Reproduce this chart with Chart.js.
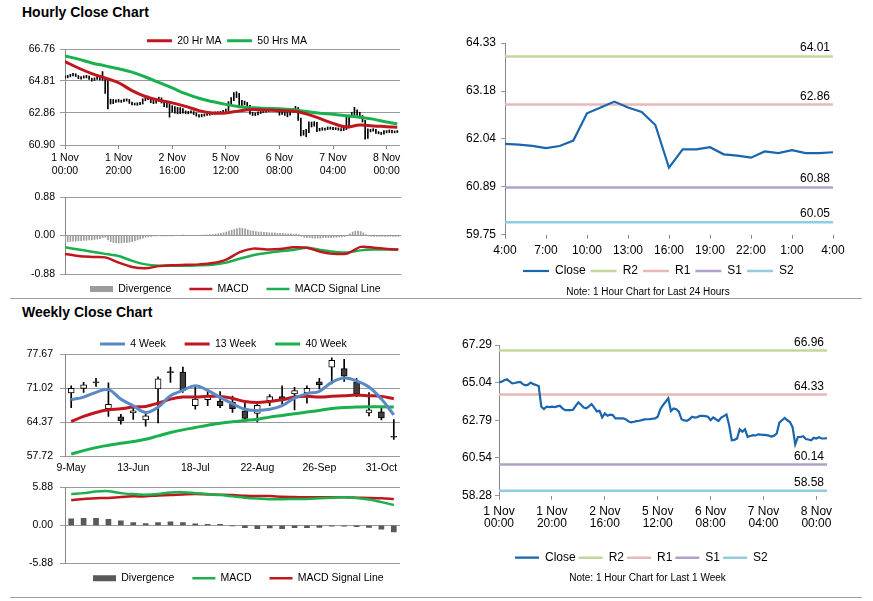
<!DOCTYPE html>
<html lang="en">
<head>
  <meta charset="UTF-8" />
  <title>Hourly and Weekly Close Charts</title>
  <script src="https://cdn.jsdelivr.net/npm/chart.js"></script>
  <style>
    html, body { margin: 0; padding: 0; background: #fff; overflow: hidden; }
    body { position: relative; width: 873px; height: 601px; font-family: 'Liberation Sans', Arial, sans-serif; }
    .title { position: absolute; left: 22px; font-size: 14px; font-weight: bold; color: #000; }
    .rule { position: absolute; left: 10px; width: 852px; height: 0; border-top: 1px solid #a0a0a0; }
    canvas { position: absolute; }
  </style>
</head>
<body>
  <div class="title" style="top:4px">Hourly Close Chart</div>
  <div class="title" style="top:304px">Weekly Close Chart</div>
  <div class="rule" style="top:298px"></div>
  <div class="rule" style="top:597px"></div>

  <canvas id="hourlyCandles" width="420" height="157" style="left:0;top:23px"></canvas>
  <canvas id="hourlyMacd" width="420" height="128" style="left:0;top:185px"></canvas>
  <canvas id="dayClose" width="443" height="270" style="left:430px;top:30px"></canvas>
  <canvas id="weeklyCandles" width="420" height="165" style="left:0;top:315px"></canvas>
  <canvas id="weeklyMacd" width="420" height="128" style="left:0;top:474px"></canvas>
  <canvas id="weekClose" width="443" height="256" style="left:430px;top:330px"></canvas>

  <script>
    // ---- hourly data (1 Nov 00:00 .. 8 Nov 04:00, one value per hour) ----
    const hourTickPos = [0, 20, 40, 60, 80, 100, 120];
    const hourTickLabels = [['1 Nov', '00:00'], ['1 Nov', '20:00'], ['2 Nov', '16:00'], ['5 Nov', '12:00'],
                            ['6 Nov', '08:00'], ['7 Nov', '04:00'], ['8 Nov', '00:00']];

    const hourlyClose = [65.05, 65.10, 65.18, 65.24, 65.12, 65.00, 65.02, 65.06, 65.08, 64.95,
      64.88, 64.92, 65.04, 64.95, 64.90, 64.84, 63.60, 63.46, 63.60, 63.58,
      63.60, 63.58, 63.62, 63.66, 63.50, 63.40, 63.40, 63.40, 63.42, 63.65,
      63.86, 63.72, 63.55, 63.50, 63.62, 63.76, 63.55, 63.32, 63.36, 62.96,
      63.20, 63.06, 63.12, 63.10, 62.90, 62.90, 62.90, 62.90, 62.84, 62.72,
      62.67, 62.70, 62.74, 62.76, 62.80, 62.84, 62.85, 62.86, 62.88, 62.90,
      63.00, 63.45, 63.70, 63.90, 64.10, 63.34, 63.50, 63.45, 63.30, 62.85,
      62.78, 62.75, 62.85, 63.00, 62.95, 62.98, 63.06, 63.05, 63.04, 63.00,
      62.80, 62.96, 62.85, 62.75, 62.95, 63.04, 63.14, 62.50, 61.60, 61.62,
      61.70, 62.25, 62.10, 62.25, 61.80, 61.85, 61.90, 61.88, 61.95, 61.93,
      61.92, 61.90, 61.87, 61.82, 61.87, 62.00, 62.65, 62.79, 62.93, 62.79,
      62.68, 62.37, 61.35, 61.79, 61.79, 61.84, 61.67, 61.64, 61.59, 61.74,
      61.70, 61.77, 61.70, 61.70, 61.72];

    const hourlyHigh = [65.12, 65.15, 65.22, 65.28, 65.25, 65.14, 65.08, 65.12, 65.15, 65.10,
      64.98, 65.00, 65.10, 65.08, 65.38, 64.98, 64.92, 63.70, 63.68, 63.66,
      63.68, 63.64, 63.70, 63.72, 63.68, 63.52, 63.46, 63.48, 63.50, 63.72,
      63.92, 63.88, 63.76, 63.62, 63.70, 63.82, 63.78, 63.58, 63.46, 63.40,
      63.30, 63.24, 63.20, 63.18, 63.12, 62.98, 62.96, 62.98, 62.94, 62.86,
      62.76, 62.78, 62.80, 62.82, 62.86, 62.90, 62.92, 62.94, 62.96, 63.02,
      63.10, 63.55, 63.80, 64.10, 64.15, 64.05, 63.62, 63.58, 63.50, 63.32,
      62.90, 62.86, 62.92, 63.06, 63.04, 63.05, 63.12, 63.12, 63.10, 63.08,
      63.02, 63.04, 63.00, 62.90, 63.02, 63.12, 63.26, 63.18, 62.55, 61.80,
      61.86, 62.32, 62.30, 62.32, 62.28, 61.92, 61.96, 61.94, 62.00, 62.00,
      61.98, 61.96, 61.94, 61.90, 61.92, 62.60, 62.72, 62.90, 63.20, 63.05,
      62.90, 62.70, 62.40, 61.88, 61.86, 61.90, 61.86, 61.72, 61.68, 61.78,
      61.78, 61.82, 61.80, 61.76, 61.78];

    const hourlyLow = [64.98, 65.00, 65.06, 65.12, 65.08, 64.95, 64.92, 64.98, 65.00, 64.90,
      64.80, 64.84, 64.90, 64.88, 64.85, 64.05, 63.10, 63.40, 63.42, 63.50,
      63.52, 63.50, 63.54, 63.58, 63.44, 63.34, 63.34, 63.32, 63.36, 63.40,
      63.60, 63.66, 63.48, 63.42, 63.46, 63.56, 63.46, 63.24, 63.20, 62.60,
      62.90, 62.85, 62.80, 62.82, 62.84, 62.82, 62.80, 62.84, 62.76, 62.66,
      62.60, 62.62, 62.66, 62.70, 62.72, 62.76, 62.78, 62.80, 62.82, 62.84,
      62.88, 62.98, 63.40, 63.60, 63.80, 63.25, 63.30, 63.35, 63.20, 62.78,
      62.70, 62.70, 62.74, 62.82, 62.88, 62.90, 62.94, 62.98, 62.96, 62.92,
      62.72, 62.76, 62.70, 62.62, 62.72, 62.90, 63.00, 62.40, 61.45, 61.50,
      61.40, 61.66, 62.00, 62.05, 61.72, 61.76, 61.80, 61.80, 61.84, 61.86,
      61.84, 61.84, 61.80, 61.76, 61.78, 61.84, 61.95, 62.60, 62.74, 62.70,
      62.55, 62.30, 61.25, 61.30, 61.70, 61.74, 61.60, 61.58, 61.54, 61.56,
      61.64, 61.66, 61.64, 61.64, 61.66];

    // moving averages and MACD sampled every 5 hours
    const maHours = [0, 5, 10, 15, 20, 25, 30, 35, 40, 45, 50, 55, 60, 65, 70, 75, 80, 85, 90, 95, 100, 105, 110, 115, 120, 124];
    const ma20 = [65.99, 65.60, 65.26, 64.99, 64.70, 64.22, 63.86, 63.64, 63.47, 63.26, 63.00, 62.86, 62.86,
                  62.98, 63.06, 63.03, 63.00, 62.97, 62.80, 62.52, 62.22, 62.00, 62.12, 62.06, 62.02, 61.98];
    const ma50 = [66.33, 66.14, 65.91, 65.73, 65.55, 65.35, 65.05, 64.72, 64.38, 64.03, 63.75, 63.55, 63.38,
                  63.24, 63.17, 63.13, 63.11, 63.05, 62.95, 62.84, 62.77, 62.68, 62.59, 62.48, 62.30, 62.19];
    const hourMacd = [-0.42, -0.47, -0.49, -0.50, -0.62, -0.72, -0.75, -0.70, -0.68, -0.67, -0.66, -0.63, -0.55,
                      -0.38, -0.30, -0.32, -0.31, -0.27, -0.28, -0.37, -0.42, -0.41, -0.26, -0.28, -0.31, -0.32];
    const hourSignal = [-0.27, -0.32, -0.37, -0.42, -0.47, -0.58, -0.66, -0.69, -0.69, -0.69, -0.68, -0.67, -0.62,
                        -0.53, -0.45, -0.40, -0.36, -0.33, -0.28, -0.33, -0.37, -0.39, -0.34, -0.32, -0.32, -0.32];
    const hourDiv = [-0.15, -0.14, -0.14, -0.13, -0.13, -0.12, -0.12, -0.11, -0.11, -0.10,
      -0.10, -0.09, -0.08, -0.07, -0.05, -0.04, -0.10, -0.14, -0.16, -0.17,
      -0.17, -0.17, -0.16, -0.16, -0.15, -0.14, -0.12, -0.10, -0.08, -0.06,
      -0.04, -0.03, -0.02, -0.01, -0.01, 0.00, -0.01, -0.01, -0.01, -0.01,
      -0.01, 0.00, 0.00, 0.00, 0.01, 0.00, 0.00, 0.00, 0.00, 0.00,
      0.00, 0.01, 0.01, 0.01, 0.02, 0.02, 0.03, 0.04, 0.05, 0.06,
      0.08, 0.10, 0.12, 0.14, 0.16, 0.17, 0.16, 0.15, 0.13, 0.11,
      0.10, 0.09, 0.08, 0.08, 0.07, 0.07, 0.06, 0.06, 0.06, 0.05,
      0.05, 0.05, 0.04, 0.04, 0.04, 0.03, 0.03, 0.02, -0.02, -0.04,
      -0.05, -0.05, -0.06, -0.06, -0.06, -0.06, -0.05, -0.05, -0.05, -0.05,
      -0.04, -0.04, -0.03, -0.03, -0.02, 0.00, 0.04, 0.08, 0.10, 0.10,
      0.09, 0.06, 0.02, -0.01, -0.02, -0.02, -0.02, -0.02, -0.02, -0.02,
      -0.02, -0.02, -0.02, -0.02, -0.02];

    // last 24 hours (7 Nov 04:00 .. 8 Nov 04:00) are the tail of the hourly series
    const dayTickPos = [0, 3, 6, 9, 12, 15, 18, 21, 24];
    const dayTickLabels = ['4:00', '7:00', '10:00', '13:00', '16:00', '19:00', '22:00', '1:00', '4:00'];
    const dayClose = hourlyClose.slice(100);

    const pivotNames = ['R2', 'R1', 'S1', 'S2'];
    const pivotsDay = [64.01, 62.86, 60.88, 60.05];
    const pivotsWeek = [66.96, 64.33, 60.14, 58.58];

    // ---- weekly data ----
    const weekLabels = ['9-May', '16-May', '23-May', '30-May', '6-Jun', '13-Jun', '20-Jun', '27-Jun', '4-Jul',
      '11-Jul', '18-Jul', '25-Jul', '1-Aug', '8-Aug', '15-Aug', '22-Aug', '29-Aug', '5-Sep', '12-Sep',
      '19-Sep', '26-Sep', '3-Oct', '10-Oct', '17-Oct', '24-Oct', '31-Oct', '7-Nov'];
    const weekOpen = [70.1, 71.0, 72.3, 67.0, 65.4, 66.2, 64.8, 70.9, 74.3, 74.2, 67.6, 68.8, 68.5, 68.3,
                      66.6, 66.1, 68.6, 69.4, 69.9, 70.1, 72.3, 75.2, 74.9, 72.3, 66.2, 66.4, 61.6];
    const weekClose = [71.0, 71.7, 72.1, 67.9, 64.6, 66.6, 65.6, 72.9, 74.1, 70.6, 68.9, 69.6, 67.6, 67.0,
                       65.1, 67.7, 69.4, 68.6, 70.6, 71.0, 71.7, 76.5, 73.4, 69.9, 66.8, 65.2, 61.4];
    const weekHigh = [71.5, 72.2, 73.0, 72.1, 65.9, 67.1, 66.4, 73.3, 75.2, 75.2, 71.2, 70.6, 70.4, 69.5,
                      68.2, 68.2, 69.8, 71.5, 71.2, 71.5, 73.0, 77.0, 76.7, 73.0, 70.2, 67.2, 64.9];
    const weekLow = [67.2, 70.2, 71.4, 65.5, 64.0, 64.9, 63.6, 64.2, 72.2, 70.2, 66.9, 67.6, 67.2, 66.3,
                     64.6, 64.4, 67.6, 67.9, 66.8, 68.1, 70.9, 71.9, 72.4, 69.4, 65.6, 64.8, 61.0];
    const weekMa4 = [68.78, 69.30, 70.23, 70.76, 68.90, 67.60, 66.28, 67.30, 69.57, 70.60, 71.55, 70.60, 69.24,
                     68.00, 66.90, 66.68, 66.90, 67.60, 69.10, 69.97, 70.43, 72.20, 73.06, 72.50, 71.28, 68.90, 65.80];
    const weekMa13 = [64.50, 65.50, 66.28, 66.80, 67.00, 67.34, 67.47, 68.12, 68.90, 69.30, 69.30, 69.44, 69.44,
                      69.04, 68.45, 68.25, 68.45, 68.78, 69.30, 69.44, 69.30, 69.44, 69.57, 69.70, 69.57, 69.44, 68.98];
    const weekMa40 = [58.10, 58.78, 59.37, 59.83, 60.23, 60.55, 61.00, 61.67, 62.33, 62.86, 63.32, 63.78, 64.17,
                      64.44, 64.70, 64.96, 65.36, 65.69, 66.02, 66.35, 66.68, 67.07, 67.27, 67.34, 67.40, 67.40, 67.34];
    const weekMacd = [4.83, 4.98, 5.23, 5.28, 4.98, 4.83, 4.73, 4.83, 5.08, 5.13, 4.98, 4.83, 4.68, 4.48,
                      4.28, 4.14, 4.04, 4.04, 4.09, 4.09, 4.19, 4.28, 4.33, 4.24, 3.99, 3.59, 3.14];
    const weekSignal = [3.89, 4.09, 4.19, 4.24, 4.38, 4.48, 4.48, 4.63, 4.68, 4.78, 4.83, 4.78, 4.73, 4.68,
                        4.58, 4.53, 4.53, 4.43, 4.38, 4.33, 4.33, 4.33, 4.33, 4.28, 4.24, 4.19, 4.09];
    const weekDiv = [1.0, 1.1, 1.1, 0.95, 0.7, 0.45, 0.3, 0.45, 0.55, 0.45, 0.25, 0.15, 0.15, -0.05,
                     -0.35, -0.5, -0.4, -0.5, -0.35, -0.35, -0.3, -0.1, -0.1, -0.2, -0.3, -0.6, -1.0];

    // ---- y axis tick values ----
    const hourlyTicks = [60.90, 62.86, 64.81, 66.76];
    const hourMacdTicks = [-0.88, 0.00, 0.88];
    const dayTicks = [59.75, 60.89, 62.04, 63.18, 64.33];
    const weeklyTicks = [57.72, 64.37, 71.02, 77.67];
    const weekMacdTicks = [-5.88, 0.00, 5.88];
    const weekCloseTicks = [58.28, 60.54, 62.79, 65.04, 67.29];

    const RED = '#c0161d', GREEN = '#1ab04c', BLUE = '#5a8ac6', CLOSE = '#1a65ad';
    const pivotColors = ['#c4d79b', '#e6b8b7', '#b1a0c7', '#92cddc'];
    const AXIS = '#868686', GRID = '#9a9a9a';

    Chart.defaults.font.family = "'Liberation Sans', Arial, sans-serif";
    Chart.defaults.color = '#000';
    Chart.defaults.animation = false;

    // puts the legend (and the note under it) where the reference has them
    const placeBoxes = {
      id: 'placeBoxes',
      afterLayout(chart, args, o) {
        const lg = chart.legend;
        if (lg && o.legendX != null) {
          const pad = lg.options.labels.padding;
          const top = o.legendY - pad - o.itemH / 2;
          lg.left = o.legendX - pad;
          lg.right = lg.left + 1000;
          lg.top = top;
          lg.bottom = top + lg.height;
        }
        if (o.noteY != null) {
          const note = chart.boxes.find(b => b !== lg && b.options && typeof b.options.text === 'string' && b.options.text.length);
          if (note) {
            note.left = o.noteX - 300;
            note.right = o.noteX + 300;
            note.top = o.noteY - 6;
            note.bottom = note.top + 12;
          }
        }
      }
    };

    // value labels above the pivot lines
    const levelLabels = {
      id: 'levelLabels',
      afterDatasetsDraw(chart) {
        const { ctx, chartArea, scales } = chart;
        ctx.save();
        ctx.font = "12px 'Liberation Sans', Arial, sans-serif";
        ctx.fillStyle = '#000';
        ctx.textAlign = 'right';
        ctx.textBaseline = 'alphabetic';
        chart.data.datasets.forEach(ds => {
          if (ds.levelValue == null) return;
          const y = scales.y.getPixelForValue(ds.levelValue);
          ctx.fillText(ds.levelValue.toFixed(2), chartArea.right - 3, y - 5);
        });
        ctx.restore();
      }
    };

    function legendLabels(chart) {
      return chart.data.datasets.map((ds, i) => ds.label ? {
        text: ds.label,
        datasetIndex: i,
        pointStyle: ds.type === 'line' ? 'line' : 'rect',
        strokeStyle: ds.borderColor,
        fillStyle: ds.type === 'line' ? ds.borderColor : ds.backgroundColor,
        lineWidth: ds.type === 'line' ? ds.borderWidth : 0,
        fontColor: '#000',
        hidden: false
      } : null).filter(Boolean);
    }

    function legend(position, size, pad, boxW) {
      return {
        display: true,
        position: position,
        align: 'start',
        labels: {
          font: { size: size },
          padding: pad,
          usePointStyle: true,
          pointStyleWidth: boxW,
          boxHeight: 6,
          generateLabels: legendLabels
        }
      };
    }

    function yAxis(ticksArr, width, size, tickLen, pad, grid) {
      return {
        min: ticksArr[0],
        max: ticksArr[ticksArr.length - 1],
        afterBuildTicks: s => { s.ticks = ticksArr.map(v => ({ value: v })); },
        afterFit: s => { s.width = width; },
        ticks: { font: { size: size }, padding: pad, callback: v => v.toFixed(2) },
        grid: { drawOnChartArea: grid, color: GRID, tickLength: tickLen },
        border: { color: AXIS }
      };
    }

    function hourAxis(max, height, size, lineHeight, pad) {
      return {
        type: 'linear', min: 0, max: max, offset: false,
        afterBuildTicks: s => { s.ticks = hourTickPos.map(v => ({ value: v })); },
        afterFit: s => { s.height = height; },
        ticks: { font: { size: size, lineHeight: lineHeight }, padding: pad, maxRotation: 0, autoSkip: false,
                 callback: (v, i) => hourTickLabels[i] },
        grid: { drawOnChartArea: false, offset: false, tickLength: 4, color: AXIS },
        border: { display: false }
      };
    }

    const atHours = (vals) => maHours.map((h, i) => ({ x: h, y: vals[i] }));
    const lineSet = (label, data, color, width, tension) => ({
      type: 'line', label: label, data: data, borderColor: color, backgroundColor: color,
      borderWidth: width, pointRadius: 0, tension: tension, order: 0
    });

    // ---- Hourly candles ----
    new Chart(document.getElementById('hourlyCandles'), {
      type: 'bar',
      data: {
        datasets: [
          lineSet('20 Hr MA', atHours(ma20), RED, 3, 0.4),
          lineSet('50 Hrs MA', atHours(ma50), GREEN, 3, 0.4),
          {
            type: 'bar',
            data: hourlyHigh.map((h, i) => ({ x: i, y: [hourlyLow[i], h] })),
            backgroundColor: '#000', barThickness: 1, order: 1
          }
        ]
      },
      options: {
        responsive: false,
        layout: { padding: { left: 0, right: 20, top: 0, bottom: 0 } },
        plugins: {
          legend: legend('top', 10.5, 5.5, 25),
          tooltip: { enabled: false },
          placeBoxes: { legendX: 147, legendY: 17.7, itemH: 10.5 }
        },
        scales: {
          x: hourAxis(125, 35, 10.5, 1.27, 2),
          y: yAxis(hourlyTicks, 65, 10.5, 5, 5, true)
        }
      },
      plugins: [placeBoxes]
    });

    // ---- Hourly MACD ----
    new Chart(document.getElementById('hourlyMacd'), {
      type: 'bar',
      data: {
        datasets: [
          {
            type: 'bar', label: 'Divergence',
            data: hourDiv.map((v, i) => ({ x: i, y: v })),
            backgroundColor: '#9c9c9c', barThickness: 1, order: 2
          },
          lineSet('MACD', atHours(hourMacd), RED, 2.5, 0.3),
          lineSet('MACD Signal Line', atHours(hourSignal), GREEN, 2.5, 0.3)
        ]
      },
      options: {
        responsive: false,
        layout: { padding: { left: 0, right: 19, top: 12, bottom: 0.5 } },
        plugins: {
          legend: legend('bottom', 10.5, 18, 23),
          tooltip: { enabled: false },
          placeBoxes: { legendX: 90, legendY: 104, itemH: 10.5 }
        },
        scales: {
          x: { type: 'linear', min: 0, max: 125, offset: false, display: false, grid: { offset: false } },
          y: yAxis(hourMacdTicks, 65, 10.5, 5, 5, true)
        }
      },
      plugins: [placeBoxes]
    });

    // ---- Close for last 24 hours with pivots ----
    function pivotSets(levels, lastX) {
      return pivotNames.map((name, i) => ({
        type: 'line', label: name,
        data: [{ x: 0, y: levels[i] }, { x: lastX, y: levels[i] }],
        borderColor: pivotColors[i], backgroundColor: pivotColors[i],
        borderWidth: 2.5, pointRadius: 0, order: 1, levelValue: levels[i]
      }));
    }

    new Chart(document.getElementById('dayClose'), {
      type: 'line',
      data: {
        datasets: [
          lineSet('Close', dayClose.map((v, i) => ({ x: i, y: v })), CLOSE, 2.2, 0),
          ...pivotSets(pivotsDay, 24)
        ]
      },
      options: {
        responsive: false,
        layout: { padding: { left: 0, right: 40, top: 13, bottom: 4.3 } },
        plugins: {
          legend: legend('bottom', 12, 5, 26),
          subtitle: { display: true, text: 'Note: 1 Hour Chart for Last 24 Hours', position: 'bottom',
                      font: { size: 10 }, color: '#000', padding: 0 },
          tooltip: { enabled: false },
          placeBoxes: { legendX: 93, legendY: 241, itemH: 12, noteX: 218, noteY: 262 }
        },
        scales: {
          x: {
            type: 'linear', min: 0, max: 24,
            afterBuildTicks: s => { s.ticks = dayTickPos.map(v => ({ value: v })); },
            afterFit: s => { s.height = 22; },
            ticks: { font: { size: 12 }, padding: 5, maxRotation: 0, autoSkip: false,
                     callback: (v, i) => dayTickLabels[i] },
            grid: { drawOnChartArea: false, tickLength: 4, color: AXIS },
            border: { display: false }
          },
          y: yAxis(dayTicks, 75, 12, 4, 5, false)
        }
      },
      plugins: [placeBoxes, levelLabels]
    });

    // ---- Weekly candles ----
    new Chart(document.getElementById('weeklyCandles'), {
      type: 'bar',
      data: {
        labels: weekLabels,
        datasets: [
          lineSet('4 Week', weekMa4, BLUE, 3, 0.4),
          lineSet('13 Week', weekMa13, RED, 3, 0.4),
          lineSet('40 Week', weekMa40, GREEN, 3, 0.4),
          {
            type: 'bar', data: weekOpen.map((o, i) => [o, weekClose[i]]),
            backgroundColor: weekOpen.map((o, i) => weekClose[i] >= o ? '#ffffff' : '#404040'),
            borderColor: '#000', borderWidth: 1, borderSkipped: false,
            barThickness: 6, grouped: false, order: 1
          },
          {
            type: 'bar', data: weekLow.map((l, i) => [l, weekHigh[i]]),
            backgroundColor: '#000', barThickness: 1, grouped: false, order: 2
          }
        ]
      },
      options: {
        responsive: false,
        layout: { padding: { left: 0, right: 20, top: 0, bottom: 6 } },
        plugins: {
          legend: legend('top', 10.5, 19, 25),
          tooltip: { enabled: false },
          placeBoxes: { legendX: 100, legendY: 29, itemH: 10.5 }
        },
        scales: {
          x: {
            afterFit: s => { s.height = 18; },
            ticks: { font: { size: 10.5 }, padding: 6, maxRotation: 0, autoSkip: false,
                     callback: (v, i) => i % 5 === 0 ? weekLabels[i] : '' },
            grid: { display: false, drawTicks: false, tickLength: 0 },
            border: { display: false }
          },
          y: yAxis(weeklyTicks, 65, 10.5, 5, 7, true)
        }
      },
      plugins: [placeBoxes]
    });

    // ---- Weekly MACD ----
    new Chart(document.getElementById('weeklyMacd'), {
      type: 'bar',
      data: {
        labels: weekLabels,
        datasets: [
          { type: 'bar', label: 'Divergence', data: weekDiv, backgroundColor: '#595959', barThickness: 5, order: 2 },
          lineSet('MACD', weekMacd, GREEN, 2.5, 0.3),
          lineSet('MACD Signal Line', weekSignal, RED, 2.5, 0.3)
        ]
      },
      options: {
        responsive: false,
        layout: { padding: { left: 0, right: 20, top: 10, bottom: 0 } },
        plugins: {
          legend: legend('bottom', 10.5, 18, 23),
          tooltip: { enabled: false },
          placeBoxes: { legendX: 93, legendY: 104.3, itemH: 10.5 }
        },
        scales: {
          x: { display: false },
          y: yAxis(weekMacdTicks, 65, 10.5, 5, 7, true)
        }
      },
      plugins: [placeBoxes]
    });

    // ---- Close for last week with pivots ----
    new Chart(document.getElementById('weekClose'), {
      type: 'line',
      data: {
        datasets: [
          lineSet('Close', hourlyClose.map((v, i) => ({ x: i, y: v })), CLOSE, 2.2, 0),
          ...pivotSets(pivotsWeek, 124)
        ]
      },
      options: {
        responsive: false,
        layout: { padding: { left: 0, right: 46, top: 15, bottom: 5.3 } },
        plugins: {
          legend: legend('bottom', 12, 3, 24),
          subtitle: { display: true, text: 'Note: 1 Hour Chart for Last 1 Week', position: 'bottom',
                      font: { size: 10 }, color: '#000', padding: 0 },
          tooltip: { enabled: false },
          placeBoxes: { legendX: 85, legendY: 227.7, itemH: 12, noteX: 217.5, noteY: 248.3 }
        },
        scales: {
          x: hourAxis(124, 48, 12, 1.0, 6),
          y: yAxis(weekCloseTicks, 69, 12, 4, 3, false)
        }
      },
      plugins: [placeBoxes, levelLabels]
    });
  </script>
</body>
</html>
